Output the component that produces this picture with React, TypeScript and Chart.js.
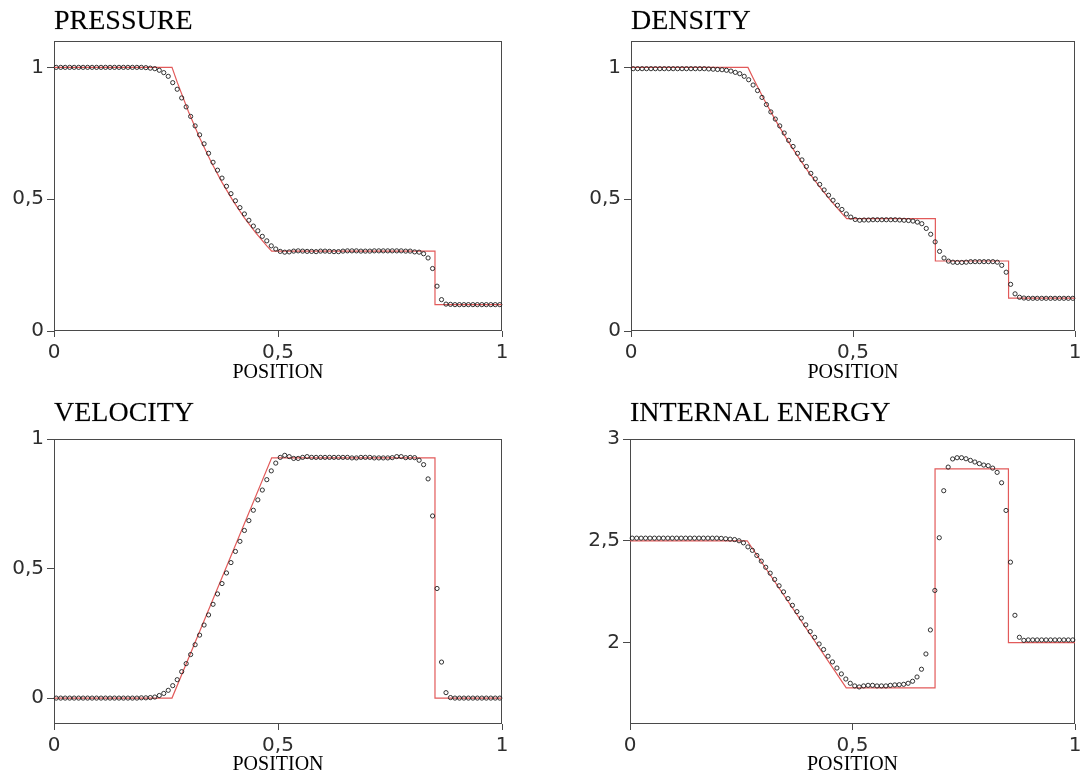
import React, { useEffect, useRef } from 'react';
import { Chart, registerables } from 'chart.js';

Chart.register(...registerables);

// Cell centres of the numerical solution (100 cells)
const POSITIONS = [
  0.005, 0.015, 0.025, 0.035, 0.045, 0.055, 0.065, 0.075, 0.085, 0.095,
  0.105, 0.115, 0.125, 0.135, 0.145, 0.155, 0.165, 0.175, 0.185, 0.195,
  0.205, 0.215, 0.225, 0.235, 0.245, 0.255, 0.265, 0.275, 0.285, 0.295,
  0.305, 0.315, 0.325, 0.335, 0.345, 0.355, 0.365, 0.375, 0.385, 0.395,
  0.405, 0.415, 0.425, 0.435, 0.445, 0.455, 0.465, 0.475, 0.485, 0.495,
  0.505, 0.515, 0.525, 0.535, 0.545, 0.555, 0.565, 0.575, 0.585, 0.595,
  0.605, 0.615, 0.625, 0.635, 0.645, 0.655, 0.665, 0.675, 0.685, 0.695,
  0.705, 0.715, 0.725, 0.735, 0.745, 0.755, 0.765, 0.775, 0.785, 0.795,
  0.805, 0.815, 0.825, 0.835, 0.845, 0.855, 0.865, 0.875, 0.885, 0.895,
  0.905, 0.915, 0.925, 0.935, 0.945, 0.955, 0.965, 0.975, 0.985, 0.995,
];

const PRESSURE_SIM = [
  1, 1, 1, 1, 1, 1, 1, 1, 1, 1,
  1, 1, 1, 1, 1, 1, 1, 1, 1, 1,
  0.999, 0.997, 0.995, 0.989, 0.98, 0.966, 0.942, 0.917, 0.884, 0.85,
  0.814, 0.778, 0.744, 0.71, 0.674, 0.64, 0.61, 0.58, 0.549, 0.521,
  0.494, 0.468, 0.444, 0.42, 0.398, 0.38, 0.359, 0.342, 0.323, 0.311,
  0.302, 0.299, 0.3, 0.303, 0.304, 0.303, 0.302, 0.302, 0.301, 0.303,
  0.303, 0.302, 0.301, 0.301, 0.303, 0.304, 0.304, 0.304, 0.303, 0.303,
  0.303, 0.304, 0.304, 0.304, 0.304, 0.304, 0.304, 0.304, 0.303, 0.303,
  0.3, 0.299, 0.293, 0.277, 0.237, 0.17, 0.119, 0.102, 0.101, 0.1,
  0.1, 0.1, 0.1, 0.1, 0.1, 0.1, 0.1, 0.1, 0.1, 0.1,
];

const DENSITY_SIM = [
  0.995, 0.995, 0.995, 0.995, 0.995, 0.995, 0.995, 0.995, 0.995, 0.995,
  0.995, 0.995, 0.995, 0.995, 0.995, 0.995, 0.995, 0.994, 0.993, 0.992,
  0.991, 0.989, 0.986, 0.981, 0.976, 0.966, 0.953, 0.933, 0.912, 0.886,
  0.859, 0.831, 0.804, 0.778, 0.751, 0.723, 0.7, 0.674, 0.649, 0.624,
  0.598, 0.577, 0.556, 0.535, 0.515, 0.496, 0.477, 0.461, 0.444, 0.432,
  0.423, 0.42, 0.421, 0.421, 0.422, 0.422, 0.422, 0.422, 0.422, 0.422,
  0.421, 0.42, 0.419, 0.417, 0.413, 0.407, 0.389, 0.367, 0.338, 0.302,
  0.277, 0.265, 0.261, 0.26, 0.26, 0.261, 0.263, 0.263, 0.263, 0.263,
  0.263, 0.263, 0.261, 0.249, 0.223, 0.177, 0.141, 0.128, 0.125, 0.124,
  0.124, 0.124, 0.124, 0.124, 0.124, 0.124, 0.124, 0.124, 0.124, 0.124,
];

const VELOCITY_SIM = [
  0, 0, 0, 0, 0, 0, 0, 0, 0, 0,
  0, 0, 0, 0, 0, 0, 0, 0, 0, 0.001,
  0.001, 0.002, 0.004, 0.01, 0.018, 0.03, 0.048, 0.071, 0.102, 0.133,
  0.168, 0.206, 0.243, 0.282, 0.321, 0.362, 0.402, 0.442, 0.483, 0.523,
  0.566, 0.605, 0.647, 0.685, 0.725, 0.765, 0.803, 0.843, 0.877, 0.907,
  0.929, 0.937, 0.932, 0.925, 0.925, 0.929, 0.932, 0.929, 0.929, 0.929,
  0.929, 0.929, 0.929, 0.929, 0.929, 0.929, 0.927, 0.927, 0.929, 0.929,
  0.929, 0.927, 0.927, 0.927, 0.927, 0.928, 0.932, 0.932, 0.928, 0.929,
  0.928, 0.918, 0.901, 0.846, 0.703, 0.423, 0.139, 0.021, 0.002, 0,
  0, 0, 0, 0, 0, 0, 0, 0, 0, 0,
];

const ENERGY_SIM = [
  2.513, 2.513, 2.513, 2.513, 2.513, 2.513, 2.513, 2.513, 2.513, 2.513,
  2.513, 2.513, 2.513, 2.513, 2.513, 2.513, 2.513, 2.513, 2.513, 2.513,
  2.512, 2.51, 2.508, 2.506, 2.5, 2.49, 2.47, 2.453, 2.428, 2.4,
  2.37, 2.341, 2.31, 2.279, 2.249, 2.216, 2.183, 2.152, 2.12, 2.087,
  2.054, 2.026, 1.993, 1.966, 1.933, 1.905, 1.875, 1.846, 1.821, 1.8,
  1.787, 1.782, 1.787, 1.79, 1.79, 1.787, 1.787, 1.787, 1.79, 1.792,
  1.793, 1.795, 1.8, 1.81, 1.831, 1.869, 1.944, 2.062, 2.256, 2.515,
  2.746, 2.862, 2.902, 2.908, 2.908, 2.903, 2.895, 2.887, 2.879, 2.872,
  2.869, 2.857, 2.836, 2.785, 2.649, 2.395, 2.134, 2.026, 2.011, 2.013,
  2.013, 2.013, 2.013, 2.013, 2.013, 2.013, 2.013, 2.013, 2.013, 2.013,
];

// Exact (reference) solution, red line
const PRESSURE_EXACT_X = [0, 0.2634, 0.275, 0.3, 0.325, 0.35, 0.375, 0.4, 0.425, 0.45, 0.475, 0.4859, 0.8504, 0.8504, 1];
const PRESSURE_EXACT = [1, 1, 0.944, 0.8327, 0.7329, 0.6436, 0.5637, 0.4925, 0.4291, 0.3729, 0.323, 0.3031, 0.3031, 0.1, 0.1];

const DENSITY_EXACT_X = [0, 0.2634, 0.275, 0.3, 0.325, 0.35, 0.375, 0.4, 0.425, 0.45, 0.475, 0.4859, 0.6855, 0.6855, 0.8504, 0.8504, 1];
const DENSITY_EXACT = [1, 1, 0.9597, 0.8774, 0.801, 0.7299, 0.664, 0.603, 0.5464, 0.4943, 0.4461, 0.4263, 0.4263, 0.2656, 0.2656, 0.125, 0.125];

const VELOCITY_EXACT_X = [0, 0.2634, 0.4859, 0.8504, 0.8504, 1];
const VELOCITY_EXACT = [0, 0, 0.9274, 0.9274, 0, 0];

const ENERGY_EXACT_X = [0, 0.2634, 0.4859, 0.6855, 0.6855, 0.8504, 0.8504, 1];
const ENERGY_EXACT = [2.5, 2.5, 1.7776, 1.7776, 2.8536, 2.8536, 2, 2];

const X_TICKS = [0, 0.5, 1];
const PRESSURE_TICKS = [0, 0.5, 1];
const DENSITY_TICKS = [0, 0.5, 1];
const VELOCITY_TICKS = [0, 0.5, 1];
const ENERGY_TICKS = [2, 2.5, 3];

const AXIS_COLOR = '#4a4a4a';
const LABEL_COLOR = '#2e2e2e';

type Spec = {
  title: string;
  sim: number[];
  exactX: number[];
  exactY: number[];
  yMin: number;
  yMax: number;
  yTicks: number[];
  left: number;
  top: number;
  width: number;
  height: number;
  area: { l: number; t: number; r: number; b: number };
  titleY: number;
  xTitlePad: number;
};

const fmt = (v: number) => String(v).replace('.', ',');

function Panel({ spec }: { spec: Spec }) {
  const ref = useRef<HTMLCanvasElement>(null);
  useEffect(() => {
    const canvas = ref.current;
    if (!canvas) return;
    const { area, width, height } = spec;
    const frame = {
      id: 'frame' + spec.title.replace(/\s/g, ''),
      beforeDatasetsDraw(chart: any) {
        const { ctx, chartArea } = chart;
        ctx.save();
        ctx.strokeStyle = AXIS_COLOR;
        ctx.lineWidth = 1;
        const l = Math.round(chartArea.left) + 0.5;
        const t = Math.round(chartArea.top) + 0.5;
        const r = Math.round(chartArea.right) - 0.5;
        const b = Math.round(chartArea.bottom) - 0.5;
        ctx.strokeRect(l, t, r - l, b - t);
        ctx.restore();
      },
      afterDraw(chart: any) {
        const { ctx, chartArea } = chart;
        ctx.save();
        ctx.font = '28px "Liberation Serif", serif';
        ctx.fillStyle = '#000';
        ctx.strokeStyle = 'rgba(0,0,0,0.35)';
        ctx.lineWidth = 0.4;
        ctx.textBaseline = 'alphabetic';
        ctx.textAlign = 'left';
        ctx.fillText(spec.title, chartArea.left, spec.titleY);
        ctx.strokeText(spec.title, chartArea.left, spec.titleY);
        ctx.restore();
      },
    };
    const chart = new Chart(canvas, {
      type: 'scatter',
      data: {
        datasets: [
          {
            data: POSITIONS.map((x, i) => ({ x, y: spec.sim[i] })),
            showLine: false,
            pointRadius: 2.1,
            pointBorderWidth: 1,
            pointBorderColor: 'rgba(30,30,30,0.9)',
            pointBackgroundColor: 'rgba(255,255,255,0)',
            order: 0,
            clip: false,
          } as any,
          {
            data: spec.exactX.map((x, i) => ({ x, y: spec.exactY[i] })),
            showLine: true,
            borderColor: '#e25a5a',
            borderWidth: 1.2,
            pointRadius: 0,
            tension: 0,
            order: 1,
          } as any,
        ],
      },
      options: {
        animation: false,
        responsive: false,
        maintainAspectRatio: false,
        events: [],
        layout: { padding: { left: 0, top: area.t, right: width - area.r, bottom: 0 } },
        plugins: {
          legend: { display: false },
          tooltip: { enabled: false },
          title: { display: false },
        },
        scales: {
          x: {
            type: 'linear',
            min: 0,
            max: 1,
            afterBuildTicks: (s: any) => {
              s.ticks = X_TICKS.map((value) => ({ value }));
            },
            afterFit: (s: any) => {
              s.height = height - area.b;
            },
            ticks: {
              callback: (v: any) => fmt(Number(v)),
              font: { family: '"DejaVu Sans", sans-serif', size: 20 },
              color: LABEL_COLOR,
              padding: 4,
              maxRotation: 0,
              autoSkip: false,
            },
            grid: { display: true, drawOnChartArea: false, drawTicks: true, tickLength: 6, color: AXIS_COLOR },
            border: { display: false },
            title: {
              display: true,
              text: 'POSITION',
              font: { family: '"Liberation Serif", serif', size: 20 },
              color: '#000',
              padding: { top: 0, bottom: spec.xTitlePad },
            },
          },
          y: {
            type: 'linear',
            min: spec.yMin,
            max: spec.yMax,
            afterBuildTicks: (s: any) => {
              s.ticks = spec.yTicks.map((value) => ({ value }));
            },
            afterFit: (s: any) => {
              s.width = area.l;
            },
            ticks: {
              callback: (v: any) => fmt(Number(v)),
              font: { family: '"DejaVu Sans", sans-serif', size: 20 },
              color: LABEL_COLOR,
              padding: 3,
              autoSkip: false,
            },
            grid: { display: true, drawOnChartArea: false, drawTicks: true, tickLength: 7, color: AXIS_COLOR },
            border: { display: false },
          },
        },
      } as any,
      plugins: [frame],
    });
    return () => chart.destroy();
  }, [spec]);
  return (
    <canvas
      ref={ref}
      width={spec.width}
      height={spec.height}
      style={{ position: 'absolute', left: spec.left, top: spec.top, width: spec.width, height: spec.height, display: 'block' }}
    />
  );
}

const SPECS: Spec[] = [
  {
    title: 'PRESSURE', sim: PRESSURE_SIM, exactX: PRESSURE_EXACT_X, exactY: PRESSURE_EXACT,
    yMin: 0, yMax: 1.1, yTicks: PRESSURE_TICKS,
    left: 0, top: 0, width: 545, height: 389, area: { l: 54, t: 41, r: 502, b: 331 }, titleY: 29, xTitlePad: 4,
  },
  {
    title: 'DENSITY', sim: DENSITY_SIM, exactX: DENSITY_EXACT_X, exactY: DENSITY_EXACT,
    yMin: 0, yMax: 1.1, yTicks: DENSITY_TICKS,
    left: 560, top: 0, width: 529, height: 389, area: { l: 71, t: 41, r: 515, b: 331 }, titleY: 29, xTitlePad: 4,
  },
  {
    title: 'VELOCITY', sim: VELOCITY_SIM, exactX: VELOCITY_EXACT_X, exactY: VELOCITY_EXACT,
    yMin: -0.1, yMax: 1, yTicks: VELOCITY_TICKS,
    left: 0, top: 389, width: 545, height: 389, area: { l: 54, t: 50, r: 502, b: 335 }, titleY: 32, xTitlePad: 1,
  },
  {
    title: 'INTERNAL ENERGY', sim: ENERGY_SIM, exactX: ENERGY_EXACT_X, exactY: ENERGY_EXACT,
    yMin: 1.6, yMax: 3, yTicks: ENERGY_TICKS,
    left: 560, top: 389, width: 529, height: 389, area: { l: 70, t: 50, r: 515, b: 335 }, titleY: 32, xTitlePad: 1,
  },
];

export default function App() {
  return (
    <div style={{ position: 'absolute', left: 0, top: 0, width: 1089, height: 778, overflow: 'hidden', background: '#fff' }}>
      {SPECS.map((s) => (
        <Panel key={s.title} spec={s} />
      ))}
    </div>
  );
}
